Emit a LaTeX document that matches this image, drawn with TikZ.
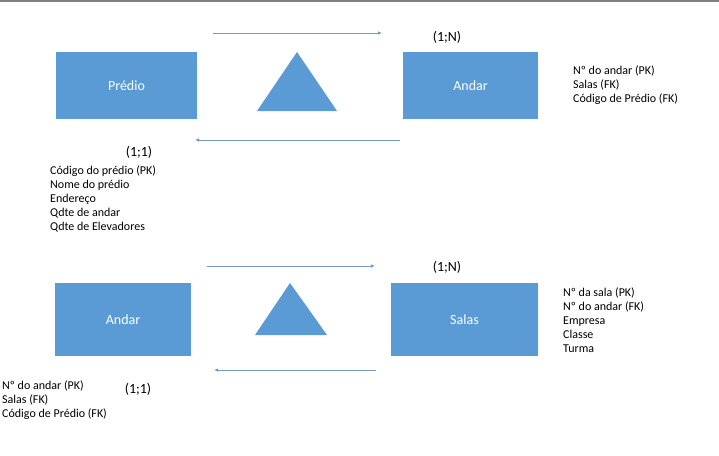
\documentclass[tikz,border=0pt]{standalone}
\usepackage{fontspec}
\setmainfont{Carlito}
\usetikzlibrary{positioning,arrows.meta}
\definecolor{boxblue}{RGB}{91,155,213}
\definecolor{flowblue}{RGB}{120,152,196}
\definecolor{rulegray}{RGB}{128,128,128}

\tikzset{
  entity/.style={rectangle, fill=boxblue, text=white, inner sep=0pt,
    font=\fontsize{14}{16}\selectfont},
  attrs/.style={align=left, anchor=north west, inner sep=0pt,
    font=\fontsize{12}{13.9}\selectfont},
  card/.style={inner sep=0pt, font=\fontsize{14}{16}\selectfont},
  flow/.style={draw=flowblue, line width=0.8pt, -{Latex[length=4pt,width=3.5pt]}},
}

\begin{document}
\begin{tikzpicture}[x=1pt, y=-1pt]
\useasboundingbox (0,0) rectangle (719,455);
\fill[rulegray] (0,0) rectangle (719,2);

% Predio -- Andar
    \node[entity, minimum width=141pt, minimum height=67pt] (predio) at (126.5,85.5) {Prédio};
    \node[entity, minimum width=135pt, minimum height=67pt] (andarA) at (470.5,85.5) {Andar};
    \fill[boxblue] (297,52) -- (337,111) -- (257,111) -- cycle;

    \coordinate (goA) at (213,33);  \coordinate (goB) at (382,33);
    \coordinate (backA) at (400,140); \coordinate (backB) at (195,140);
    \draw[flow] (goA) -- (goB);
    \draw[flow] (backA) -- (backB);

    \node[card] (nA) at (447,37) {(1;N)};
    \node[card] (oneA) at (139,152) {(1;1)};

    \node[attrs] (predioAttr) at (50,165.5) {Código do prédio (PK)\\Nome do prédio\\Endereço\\Qdte de andar\\Qdte de Elevadores};
    \node[attrs] (andarAttrA) at (573,65.5) {Nº do andar (PK)\\Salas (FK)\\Código de Prédio (FK)};

% Andar -- Salas
    \node[entity, minimum width=136pt, minimum height=73pt] (andarB) at (123,319.5) {Andar};
    \node[entity, minimum width=147pt, minimum height=73pt] (salas) at (464.5,319.5) {Salas};
    \fill[boxblue] (290,283) -- (327,335) -- (255,335) -- cycle;

    \coordinate (goC) at (207,266);  \coordinate (goD) at (375,266);
    \coordinate (backC) at (376,370); \coordinate (backD) at (214,370);
    \draw[flow] (goC) -- (goD);
    \draw[flow] (backC) -- (backD);

    \node[card] (nB) at (447,267) {(1;N)};
    \node[card] (oneB) at (138,389) {(1;1)};

    \node[attrs] (salasAttr) at (563,287.5) {Nº da sala (PK)\\Nº do andar (FK)\\Empresa\\Classe\\Turma};
    \node[attrs] (andarAttrB) at (2,380.5) {Nº do andar (PK)\\Salas (FK)\\Código de Prédio (FK)};
\end{tikzpicture}
\end{document}
